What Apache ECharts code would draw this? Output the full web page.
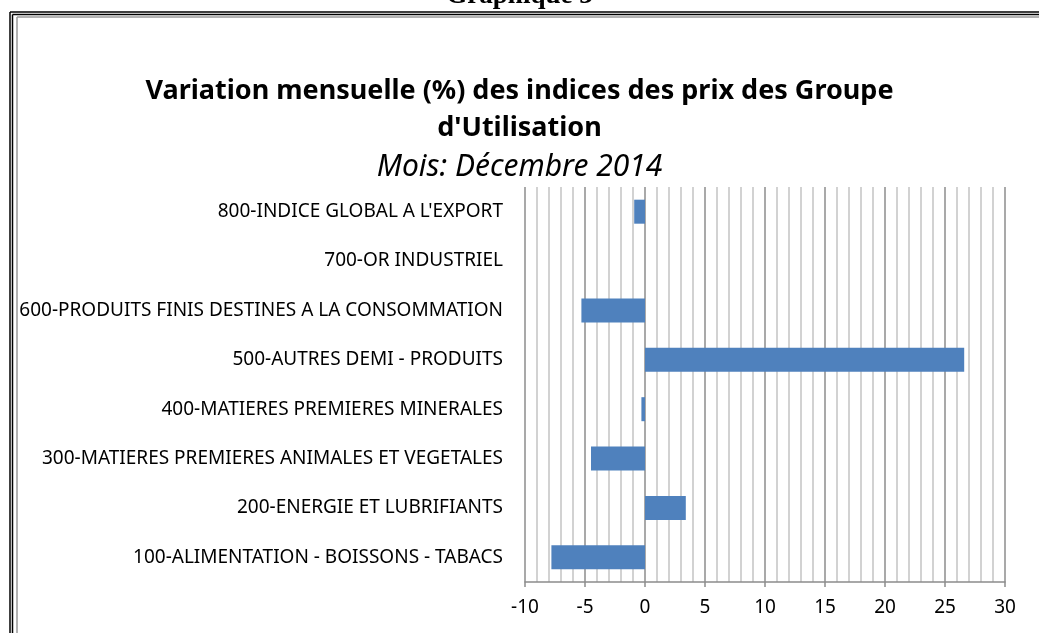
<!DOCTYPE html>
<html>
<head>
<meta charset="utf-8">
<script src="https://cdn.jsdelivr.net/npm/echarts@6/dist/echarts.min.js"></script>
<style>
  html, body { margin: 0; padding: 0; background: #fff; }
  #chart { width: 1039px; height: 633px; }
</style>
</head>
<body>
<div id="chart"></div>
<script>
// groupes d'utilisation, du bas vers le haut
var categories = [
    '100-ALIMENTATION - BOISSONS - TABACS',
    '200-ENERGIE ET LUBRIFIANTS',
    '300-MATIERES PREMIERES ANIMALES ET VEGETALES',
    '400-MATIERES PREMIERES MINERALES',
    '500-AUTRES DEMI - PRODUITS',
    '600-PRODUITS FINIS DESTINES A LA CONSOMMATION',
    '700-OR INDUSTRIEL',
    "800-INDICE GLOBAL A L'EXPORT"
];
// variation mensuelle (%)
var variation = [-7.8, 3.4, -4.5, -0.3, 26.6, -5.3, 0, -0.9];
var xTicks = [-10, -5, 0, 5, 10, 15, 20, 25, 30];

var chart = echarts.init(document.getElementById('chart'));

var option = {
    animation: false,
    backgroundColor: '#fff',
    textStyle: { fontFamily: 'Noto Sans' },
    title: {
        text: "Variation mensuelle (%) des indices des prix des Groupe\nd'Utilisation",
        subtext: 'Mois: Décembre 2014',
        left: 'center',
        top: 68,
        itemGap: 5,
        textStyle: {
            fontFamily: 'Noto Sans',
            fontSize: 27,
            fontWeight: 'bold',
            color: '#000',
            lineHeight: 37
        },
        subtextStyle: {
            fontFamily: 'Noto Sans',
            fontSize: 30,
            fontStyle: 'italic',
            color: '#000'
        }
    },
    graphic: [
        { type: 'text', left: 'center', top: -17, style: { text: 'Graphique 3', font: 'bold 27px "Liberation Serif"', fill: '#000' } },
        { type: 'line', shape: { x1: 10, y1: 12, x2: 1039, y2: 12 }, style: { stroke: '#000', lineWidth: 1.5 } },
        { type: 'line', shape: { x1: 12.5, y1: 14.5, x2: 1039, y2: 14.5 }, style: { stroke: '#000', lineWidth: 1.5 } },
        { type: 'line', shape: { x1: 17, y1: 17, x2: 1039, y2: 17 }, style: { stroke: '#999', lineWidth: 1.5 } },
        { type: 'line', shape: { x1: 10, y1: 12, x2: 10, y2: 633 }, style: { stroke: '#000', lineWidth: 1.5 } },
        { type: 'line', shape: { x1: 12.5, y1: 14.5, x2: 12.5, y2: 633 }, style: { stroke: '#000', lineWidth: 1.5 } },
        { type: 'line', shape: { x1: 17, y1: 17, x2: 17, y2: 633 }, style: { stroke: '#999', lineWidth: 1.5 } }
    ],
    grid: {
        left: 525,
        right: 34,
        top: 187,
        bottom: 51
    },
    xAxis: {
        type: 'value',
        min: xTicks[0],
        max: xTicks[xTicks.length - 1],
        interval: 5,
        axisLine: { show: true, lineStyle: { color: '#8c8c8c', width: 1.5 } },
        axisTick: { show: true, length: 5, lineStyle: { color: '#8c8c8c', width: 1.5 } },
        axisLabel: { color: '#000', fontSize: 19, margin: 16, fontFamily: 'Noto Sans' },
        splitLine: { show: true, lineStyle: { color: '#8c8c8c', width: 1.5 } },
        minorTick: { show: false, splitNumber: 5 },
        minorSplitLine: { show: true, lineStyle: { color: '#c4c4c4', width: 1.5 } }
    },
    yAxis: {
        type: 'category',
        data: categories,
        axisLine: { show: false },
        axisTick: { show: false },
        axisLabel: { color: '#000', fontSize: 19, margin: 22, fontFamily: 'Noto Sans' },
        splitLine: { show: false }
    },
    series: [{
        type: 'bar',
        data: variation,
        barWidth: 24,
        itemStyle: {
            color: '#4F81BD'
        }
    }]
};

chart.setOption(option);
</script>
</body>
</html>
